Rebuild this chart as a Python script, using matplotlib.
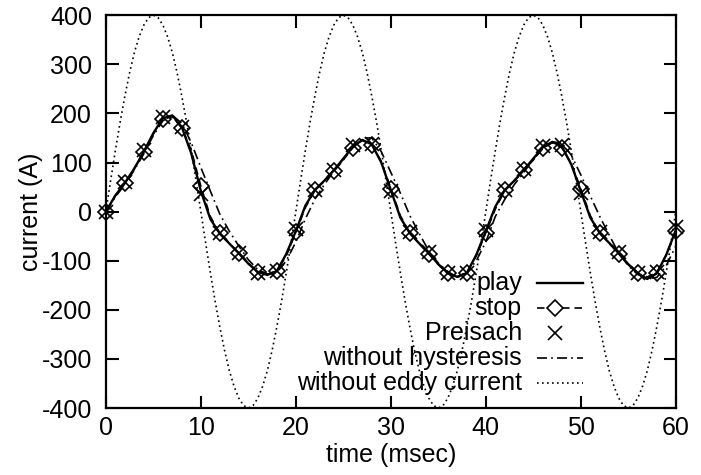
import numpy as np
import matplotlib.pyplot as plt
from matplotlib.lines import Line2D

plt.rcParams['font.family'] = ['Liberation Sans', 'DejaVu Sans']
plt.rcParams['font.size'] = 18
plt.rcParams['axes.unicode_minus'] = False

# time axis (msec), 1 msec steps for the simulated curves
t = np.arange(0, 61, 1)

play = [0, 33, 58, 88, 122, 160, 190, 196, 172, 118,
        42, -15, -45, -65, -85, -106, -123, -129, -121, -86,
        -40, 12, 44, 63, 84, 108, 132, 146, 137, 100,
        44, -12, -44, -65, -85, -107, -125, -133, -125, -88,
        -40, 10, 44, 63, 85, 108, 131, 142, 133, 96,
        42, -12, -44, -64, -85, -107, -126, -137, -126, -88,
        -38]

stop = [0, 32, 58, 88, 122, 158, 188, 193, 170, 125,
        52, -10, -44, -64, -85, -105, -122, -127, -121, -90,
        -42, 8, 43, 62, 82, 105, 130, 145, 136, 102,
        47, -8, -44, -65, -86, -108, -126, -132, -124, -90,
        -43, 5, 43, 62, 84, 105, 130, 140, 130, 98,
        47, -8, -44, -64, -86, -108, -126, -133, -124, -88,
        -40]

no_hyst = [0, 30, 55, 85, 118, 155, 185, 196, 180, 140,
           90, 42, -5, -40, -70, -98, -118, -127, -124, -100,
           -62, -15, 25, 55, 82, 108, 132, 150, 150, 122,
           80, 38, -8, -45, -80, -105, -122, -134, -125, -100,
           -62, -10, 25, 55, 80, 106, 128, 142, 140, 115,
           75, 32, -10, -48, -85, -110, -128, -137, -134, -110,
           -70]

# Preisach model, every 2 msec
t_pre = np.arange(0, 61, 2)
preisach = [0, 60, 125, 192, 172, 35, -44, -84, -124, -120,
            -35, 45, 85, 136, 138, 42, -42, -82, -124, -124,
            -38, 44, 86, 134, 136, 38, -42, -82, -124, -122,
            -32]

# without eddy current, 0.5 msec steps
t_eddy = np.arange(0, 60.5, 0.5)
no_eddy = [0, 63, 124, 182, 235, 283, 324, 356, 380, 395,
           400, 395, 380, 356, 324, 283, 235, 182, 124, 63,
           0, -63, -124, -182, -235, -283, -324, -356, -380, -395,
           -400, -395, -380, -356, -324, -283, -235, -182, -124, -63,
           0, 63, 124, 182, 235, 283, 324, 356, 380, 395,
           400, 395, 380, 356, 324, 283, 235, 182, 124, 63,
           0, -63, -124, -182, -235, -283, -324, -356, -380, -395,
           -400, -395, -380, -356, -324, -283, -235, -182, -124, -63,
           0, 63, 124, 182, 235, 283, 324, 356, 380, 395,
           400, 395, 380, 356, 324, 283, 235, 182, 124, 63,
           0, -63, -124, -182, -235, -283, -324, -356, -380, -395,
           -400, -395, -380, -356, -324, -283, -235, -182, -124, -63,
           0]

fig = plt.figure(figsize=(7.01, 4.75), dpi=100)
ax = fig.add_axes([0.151, 0.141, 0.813, 0.827])

dotted = (0, (1, 2))
dashdot = (0, (6, 2.5, 1, 2.5))
dashed = (0, (4.5, 3))

ax.plot(t_eddy, no_eddy, color='black', lw=1.2, ls=dotted)
ax.plot(t, no_hyst, color='black', lw=1.2, ls=dashdot)
ax.plot(t, play, color='black', lw=1.7)
ax.plot(t, stop, color='black', lw=1.2, ls=dashed, marker='D', markevery=2,
        markersize=8, markerfacecolor='none', markeredgecolor='black',
        markeredgewidth=1.2, clip_on=False)
ax.plot(t_pre, preisach, color='black', lw=0, marker='x', markersize=10,
        markeredgewidth=1.2, clip_on=False)

ax.set_xlim(0, 60)
ax.set_ylim(-400, 400)
ax.set_xticks(np.arange(0, 61, 10))
ax.set_yticks(np.arange(-400, 401, 100))
ax.tick_params(direction='in', length=9, width=1.5, top=True, right=True)
ax.tick_params(axis='y', pad=10)
ax.tick_params(axis='x', pad=6)
for s in ax.spines.values():
    s.set_linewidth(1.6)

ax.set_xlabel('time (msec)', labelpad=2)
ax.set_ylabel('current (A)', labelpad=-1)

# gnuplot style key: right-aligned text, sample to the right
labels = ['play', 'stop', 'Preisach', 'without hysteresis', 'without eddy current']
key_y = [0.318, 0.254, 0.191, 0.127, 0.064]
tx, x1, x2, xm = 0.730, 0.756, 0.837, 0.788
samples = [dict(ls='-', lw=1.7), dict(ls=dashed, lw=1.2), dict(ls='none'),
           dict(ls=dashdot, lw=1.2), dict(ls=dotted, lw=1.2)]
for lab, y, st in zip(labels, key_y, samples):
    ax.text(tx, y, lab, transform=ax.transAxes, ha='right', va='center')
    if st['ls'] != 'none':
        ax.add_line(Line2D([x1, x2], [y, y], transform=ax.transAxes,
                           color='black', **st))
ax.add_line(Line2D([xm], [key_y[1]], transform=ax.transAxes, marker='D',
                   markersize=8, markerfacecolor='white', markeredgecolor='black',
                   markeredgewidth=1.2, ls='none'))
ax.add_line(Line2D([xm], [key_y[2]], transform=ax.transAxes, marker='x',
                   markersize=10, markeredgewidth=1.2, color='black', ls='none'))

fig.savefig('out.png', dpi=100)
